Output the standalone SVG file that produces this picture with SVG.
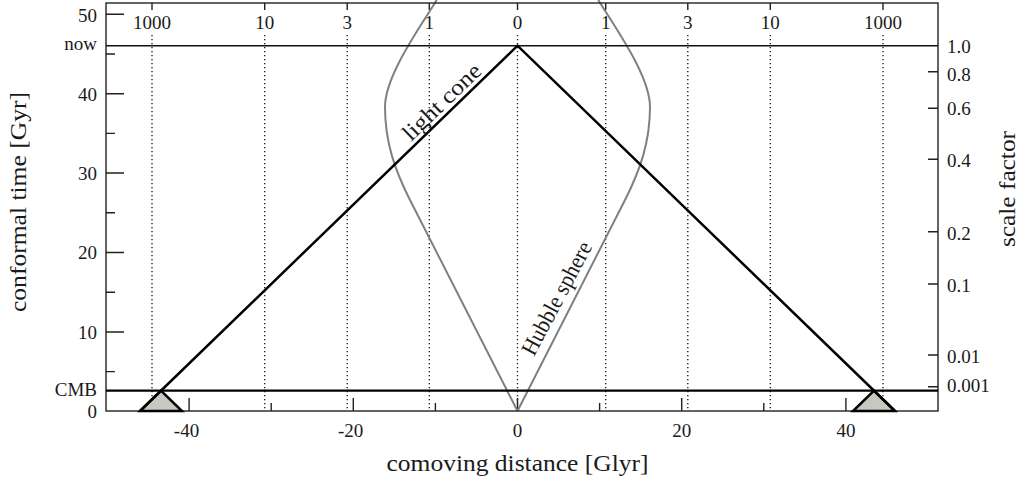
<svg xmlns="http://www.w3.org/2000/svg" width="1020" height="486" viewBox="0 0 1020 486">
<style>
text{font-family:"Liberation Serif","DejaVu Serif",serif;fill:#1a1a1a}
.tl{font-size:19px}
.ax{font-size:23px}
.r{text-anchor:end}
.m{text-anchor:middle}
.tick{stroke:#222;stroke-width:1.4;fill:none}
.dot{stroke:#222;stroke-width:1.4;stroke-dasharray:1.3 2.7;fill:none}
.hub{stroke:#808080;stroke-width:2;fill:none}
.cone{stroke:#000;stroke-width:2.5;fill:none;stroke-linejoin:miter}
</style>
<rect width="1020" height="486" fill="#fff"/>
<g id="grid">
<line class="dot" x1="152" y1="35" x2="152" y2="411"/>
<line class="dot" x1="264.7" y1="35" x2="264.7" y2="411"/>
<line class="dot" x1="347.2" y1="35" x2="347.2" y2="411"/>
<line class="dot" x1="429.3" y1="35" x2="429.3" y2="411"/>
<line class="dot" x1="517.5" y1="35" x2="517.5" y2="411"/>
<line class="dot" x1="605.7" y1="35" x2="605.7" y2="411"/>
<line class="dot" x1="687.8" y1="35" x2="687.8" y2="411"/>
<line class="dot" x1="770.3" y1="35" x2="770.3" y2="411"/>
<line class="dot" x1="883" y1="35" x2="883" y2="411"/>
</g>
<g id="ticks">
<path class="tick" d="M152,3v7M264.7,3v7M347.2,3v7M429.3,3v7M517.5,3v7M605.7,3v7M687.8,3v7M770.3,3v7M883,3v7"/>
<path class="tick" d="M106,14.3h18M106,93.7h18M106,173h18M106,252.5h18M106,332h18M106,54h9M106,133.4h9M106,212.8h9M106,292.2h9M106,371.6h9"/>
<path class="tick" d="M189.1,411v-13M353.3,411v-13M517.5,411v-13M681.7,411v-13M845.9,411v-13M271.2,411v-8M435.4,411v-8M599.6,411v-8M763.8,411v-8"/>
<path class="tick" d="M938,71.7h-10M938,108.3h-10M938,159.3h-10M938,231.7h-10M938,284h-10M938,355h-10M938,386.7h-10"/>
</g>
<g id="hubble-sphere">
<path class="hub" d="M517.5,411 L410,200 C394.8,170 385,142 385,107 C385,75 421.7,25 436.7,0"/>
<path class="hub" d="M517.5,411 L625,200 C640.2,170 650,142 650,107 C650,75 613.3,25 598.3,0"/>
</g>
<g id="frame">
<rect x="106" y="3" width="832" height="408" fill="none" stroke="#222" stroke-width="1.4"/>
<line x1="106" y1="45.7" x2="938" y2="45.7" stroke="#111" stroke-width="1.5"/>
<line x1="106" y1="390.7" x2="938" y2="390.7" stroke="#000" stroke-width="2.3"/>
</g>
<g id="light-cone">
<polygon points="161,390.7 140,411 182,411" fill="#c8c8c0" stroke="#000" stroke-width="2.5" stroke-linejoin="miter"/>
<polygon points="874,390.7 853,411 895,411" fill="#c8c8c0" stroke="#000" stroke-width="2.5" stroke-linejoin="miter"/>
<path class="cone" d="M140,411 L517.5,45.7 L895,411"/>
</g>
<g id="labels">
<text class="tl r" x="97" y="21.5">50</text>
<text class="tl r" x="97" y="50">now</text>
<text class="tl r" x="97" y="100.5">40</text>
<text class="tl r" x="97" y="179.8">30</text>
<text class="tl r" x="97" y="259.2">20</text>
<text class="tl r" x="97" y="338.8">10</text>
<text class="tl r" x="97" y="396">CMB</text>
<text class="tl r" x="97" y="418">0</text>
<text class="tl m" x="152" y="29">1000</text>
<text class="tl m" x="264.7" y="29">10</text>
<text class="tl m" x="347.2" y="29">3</text>
<text class="tl m" x="429.3" y="29">1</text>
<text class="tl m" x="517.5" y="29">0</text>
<text class="tl m" x="605.7" y="29">1</text>
<text class="tl m" x="687.8" y="29">3</text>
<text class="tl m" x="770.3" y="29">10</text>
<text class="tl m" x="883" y="29">1000</text>
<text class="tl m" x="186.5" y="437">-40</text>
<text class="tl m" x="350.7" y="437">-20</text>
<text class="tl m" x="517.5" y="437">0</text>
<text class="tl m" x="681.7" y="437">20</text>
<text class="tl m" x="845.9" y="437">40</text>
<text class="tl" x="947" y="53">1.0</text>
<text class="tl" x="947" y="80.5">0.8</text>
<text class="tl" x="947" y="115">0.6</text>
<text class="tl" x="947" y="166.5">0.4</text>
<text class="tl" x="947" y="239.5">0.2</text>
<text class="tl" x="947" y="291.5">0.1</text>
<text class="tl" x="947" y="362.5">0.01</text>
<text class="tl" x="947" y="391.5">0.001</text>
<text class="ax m" x="517.5" y="471" textLength="262" lengthAdjust="spacingAndGlyphs">comoving distance [Glyr]</text>
<text class="ax m" transform="translate(25.5,202) rotate(-90)" textLength="220" lengthAdjust="spacingAndGlyphs">conformal time [Gyr]</text>
<text class="ax m" transform="translate(1015,189) rotate(-90)" textLength="116" lengthAdjust="spacingAndGlyphs">scale factor</text>
<text class="ax" transform="translate(411,142) rotate(-44)" textLength="100" lengthAdjust="spacingAndGlyphs">light cone</text>
<text class="ax" transform="translate(534,357) rotate(-62)" textLength="125" lengthAdjust="spacingAndGlyphs">Hubble sphere</text>
</g>
</svg>
